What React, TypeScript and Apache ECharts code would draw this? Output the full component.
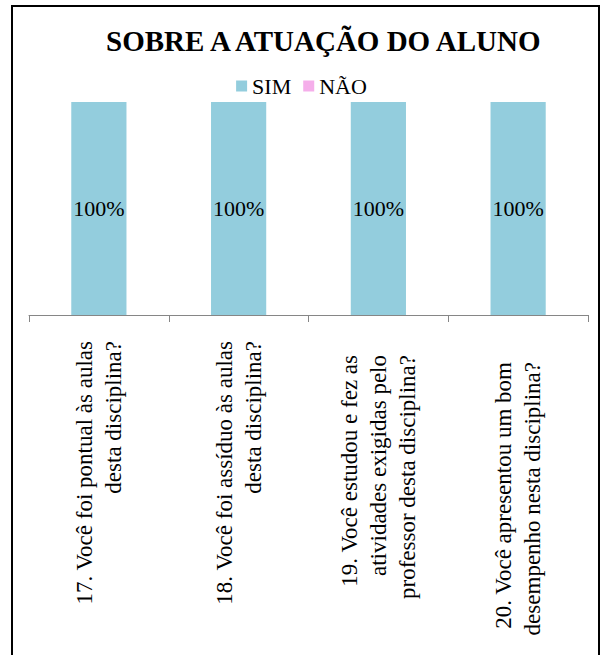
import React, { useEffect, useRef } from "react";
import * as echarts from "echarts";

const categories = [
  "17. Você foi pontual às aulas\ndesta disciplina?",
  "18. Você foi assíduo às aulas\ndesta disciplina?",
  "19. Você estudou e fez as\natividades exigidas pelo\nprofessor desta disciplina?",
  "20. Você apresentou um bom\ndesempenho nesta disciplina?",
];
const simValues = [100, 100, 100, 100];
const naoValues = [0, 0, 0, 0];
const seriesNames = ["SIM", "NÃO"];
const titleText = "SOBRE A ATUAÇÃO DO ALUNO";

const FONT = "Liberation Serif";
// extra gap between axis and each rotated label (layout only)
const labelGaps = [0, 0, 14, 21];

export default function App() {
  const ref = useRef<HTMLDivElement>(null);
  useEffect(() => {
    document.body.style.margin = "0";
    const chart = echarts.init(ref.current!, undefined, { renderer: "svg" });
    chart.setOption({
      animation: false,
      backgroundColor: "#ffffff",
      textStyle: { fontFamily: FONT },
      title: {
        text: titleText,
        left: 101,
        top: 21,
        textStyle: {
          fontFamily: FONT,
          fontSize: 29,
          fontWeight: "bold",
          color: "#000000",
        },
      },
      legend: {
        data: seriesNames,
        left: "center",
        top: 70,
        itemWidth: 11,
        itemHeight: 11,
        itemGap: 12,
        icon: "rect",
        textStyle: { fontFamily: FONT, fontSize: 22, color: "#000000" },
      },
      grid: {
        left: 29,
        right: 15,
        top: 102,
        bottom: 340,
        containLabel: false,
        outerBoundsMode: "none",
      },
      xAxis: {
        type: "category",
        data: categories.map((c, i) => ({
          value: c,
          textStyle: { padding: [0, labelGaps[i], 0, 0] },
        })),
        axisLine: { show: true, lineStyle: { color: "#868686", width: 1 } },
        axisTick: { show: true, length: 7, lineStyle: { color: "#868686", width: 1 } },
        axisLabel: {
          rotate: 90,
          align: "center",
          verticalAlign: "middle",
          margin: 26,
          interval: 0,
          hideOverlap: false,
          fontFamily: FONT,
          fontSize: 23,
          lineHeight: 29,
          color: "#000000",
        },
      },
      yAxis: {
        type: "value",
        min: 0,
        max: 100,
        show: false,
      },
      graphic: [
        {
          type: "rect",
          shape: { x: 12, y: 6, width: 587, height: 700 },
          style: { fill: "none", stroke: "#000000", lineWidth: 2 },
          silent: true,
        },
      ],
      series: [
        {
          name: seriesNames[0],
          type: "bar",
          stack: "total",
          data: simValues,
          barWidth: "39.5%",
          itemStyle: { color: "#93CDDD" },
          label: {
            show: true,
            position: "inside",
            formatter: "{c}%",
            fontFamily: FONT,
            fontSize: 22,
            color: "#000000",
          },
        },
        {
          name: seriesNames[1],
          type: "bar",
          stack: "total",
          data: naoValues,
          barWidth: "39.5%",
          itemStyle: { color: "#F5AEEA" },
          label: { show: false },
        },
      ],
    });
    return () => chart.dispose();
  }, []);
  return <div ref={ref} style={{ width: 603, height: 655 }} />;
}
